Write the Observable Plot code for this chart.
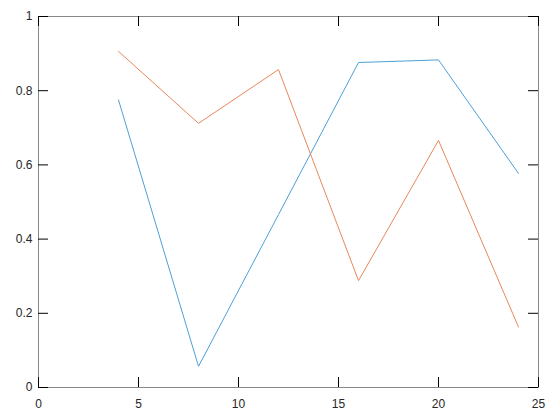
<!DOCTYPE html>
<html>
<head>
<meta charset="utf-8">
<script src="https://cdn.jsdelivr.net/npm/d3@7"></script>
<script src="https://cdn.jsdelivr.net/npm/@observablehq/plot@0.6"></script>
<style>
  html, body { margin: 0; padding: 0; background: #fff; }
</style>
</head>
<body>
<div id="chart"></div>
<script>
const xValues = [4, 8, 12, 16, 20, 24];
const seriesA = [0.775, 0.057, 0.466, 0.876, 0.883, 0.577];
const seriesB = [0.906, 0.712, 0.857, 0.288, 0.666, 0.163];
const xTicks = [0, 5, 10, 15, 20, 25];
const yTicks = [0, 0.2, 0.4, 0.6, 0.8, 1];

const dataA = xValues.map((x, i) => ({x, y: seriesA[i]}));
const dataB = xValues.map((x, i) => ({x, y: seriesB[i]}));

const W = 560, H = 420;
const mL = 38, mR = 22, mT = 16, mB = 33;
const plotH = H - mT - mB;
const plotW = W - mL - mR;
const tickLen = 10;

const chart = Plot.plot({
  width: W,
  height: H,
  marginLeft: mL,
  marginRight: mR,
  marginTop: mT,
  marginBottom: mB,
  style: {fontFamily: "'Liberation Sans', Arial, sans-serif", fontSize: "12px", color: "#262626", background: "#fff"},
  x: {domain: [0, 25]},
  y: {domain: [0, 1]},
  marks: [
    Plot.frame({stroke: "#888888", strokeWidth: 1}),
    Plot.line(dataA, {x: "x", y: "y", stroke: "#4d9fd6", strokeWidth: 1}),
    Plot.line(dataB, {x: "x", y: "y", stroke: "#e8875a", strokeWidth: 1}),
    Plot.tickX(xTicks, {x: d => d, stroke: "#000", insetTop: plotH - tickLen}),
    Plot.tickX(xTicks, {x: d => d, stroke: "#000", insetBottom: plotH - tickLen}),
    Plot.tickY(yTicks, {y: d => d, stroke: "#000", insetRight: plotW - tickLen}),
    Plot.tickY(yTicks, {y: d => d, stroke: "#000", insetLeft: plotW - tickLen}),
    Plot.axisX({ticks: xTicks, tickSize: 0, tickPadding: 12, tickFormat: d => String(d), label: null}),
    Plot.axisY({ticks: yTicks, tickSize: 0, tickPadding: 6, tickFormat: d => String(d), label: null})
  ]
});
document.getElementById("chart").appendChild(chart);
</script>
</body>
</html>
